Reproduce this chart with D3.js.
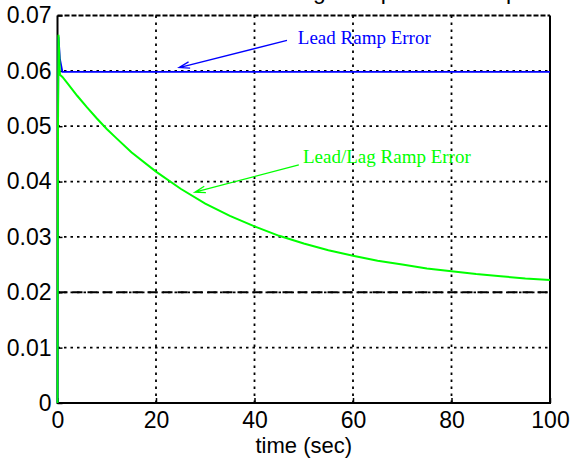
<!DOCTYPE html>
<html>
<head>
<meta charset="utf-8">
<script src="https://cdn.jsdelivr.net/npm/d3@7/dist/d3.min.js"></script>
<style>
body { margin: 0; background: #fff; }
svg { display: block; }
.tick text, .axis-label, .chart-title { font-family: "Liberation Sans", Arial, sans-serif; font-size: 23px; fill: #000; }
.axis-label { font-size: 22px; }
.note { font-family: "Liberation Serif", "Times New Roman", serif; font-size: 19px; }
</style>
</head>
<body>
<svg></svg>
<script>
// values
const time = [0, 0.1, 0.2, 0.5, 1, 2, 4, 6, 8, 10, 12, 15, 20, 25, 30, 35, 40, 45, 50, 55, 60, 65, 70, 75, 80, 85, 90, 95, 100];
const leadError = [0, 0.05, 0.0662, 0.0621, 0.0598, 0.0598, 0.0598, 0.0598, 0.0598, 0.0598, 0.0598, 0.0598, 0.0598, 0.0598, 0.0598, 0.0598, 0.0598, 0.0598, 0.0598, 0.0598, 0.0598, 0.0598, 0.0598, 0.0598, 0.0598, 0.0598, 0.0598, 0.0598, 0.0598];
const leadLagError = [0, 0.05, 0.0665, 0.0593, 0.0589, 0.0578, 0.0555, 0.0534, 0.0514, 0.0495, 0.0478, 0.0453, 0.0418, 0.0387, 0.0360, 0.0338, 0.0319, 0.0302, 0.0288, 0.0276, 0.0266, 0.0257, 0.0250, 0.0243, 0.0238, 0.0233, 0.0229, 0.0225, 0.0222];
const steadyError = [0.02, 0.02];
const steadyTime = [0, 100];
const xTicks = [0, 20, 40, 60, 80, 100];
const yTicks = [0, 0.01, 0.02, 0.03, 0.04, 0.05, 0.06, 0.07];
const seriesNames = ["Lead Ramp Error", "Lead/Lag Ramp Error"];
const titleText = "Lead and Lead/Lag Ramp Error Comparison";
const xLabel = "time (sec)";

const margin = {top: 15.5, right: 22, bottom: 55, left: 57.5},
    width = 572 - margin.left - margin.right,
    height = 458 - margin.top - margin.bottom;

const svg = d3.select("svg")
    .attr("width", width + margin.left + margin.right)
    .attr("height", height + margin.top + margin.bottom)
  .append("g")
    .attr("transform", "translate(" + margin.left + "," + margin.top + ")");

const x = d3.scaleLinear().domain([0, 100]).range([0, width]);
const y = d3.scaleLinear().domain([0, 0.07]).range([height, 0]);

// dotted grid
svg.selectAll(".vgrid")
    .data(xTicks.slice(1, -1))
  .enter().append("line")
    .attr("x1", d => x(d)).attr("x2", d => x(d))
    .attr("y1", 0).attr("y2", height)
    .attr("stroke", "#000").attr("stroke-width", 1.8)
    .attr("stroke-dasharray", "2.5,4.5");
svg.selectAll(".hgrid")
    .data(yTicks.slice(1, -1))
  .enter().append("line")
    .attr("x1", 0).attr("x2", width)
    .attr("y1", d => y(d)).attr("y2", d => y(d))
    .attr("stroke", "#000").attr("stroke-width", 1.8)
    .attr("stroke-dasharray", "2.5,4");

// axes
const xAxis = svg.append("g")
    .attr("transform", "translate(0," + height + ")")
    .call(d3.axisBottom(x).tickValues(xTicks).tickSize(-5).tickPadding(9).tickFormat(d3.format("d")));
const yAxis = svg.append("g")
    .call(d3.axisLeft(y).tickValues(yTicks).tickSize(-5).tickPadding(6)
      .tickFormat(d => d === 0 ? "0" : d3.format(".2f")(d)));
[xAxis, yAxis].forEach(a => {
  a.select(".domain").remove();
  a.selectAll(".tick line").attr("stroke", "#000").attr("stroke-width", 1.5);
});

// box
svg.append("path")
    .attr("d", "M0,0V" + height + "H" + width + "V0")
    .attr("fill", "none").attr("stroke", "#000").attr("stroke-width", 2);
svg.append("line")
    .attr("x1", 0).attr("x2", width).attr("y1", 0).attr("y2", 0)
    .attr("stroke", "#000").attr("stroke-width", 2)
    .attr("stroke-dasharray", "5,2");

// steady-state reference
const line = d3.line().x(d => x(d[0])).y(d => y(d[1]));
svg.append("path")
    .datum(d3.zip(steadyTime, steadyError))
    .attr("d", line)
    .attr("fill", "none").attr("stroke", "#000").attr("stroke-width", 2)
    .attr("stroke-dasharray", "10,5");

svg.append("path")
    .datum(d3.zip(time, leadError))
    .attr("d", line)
    .attr("fill", "none").attr("stroke", "#0000ff").attr("stroke-width", 1.8);
svg.append("path")
    .datum(d3.zip(time, leadLagError))
    .attr("d", line)
    .attr("fill", "none").attr("stroke", "#00ff00").attr("stroke-width", 2);

// annotations
function arrow(x0, y0, x1, y1, color) {
  const ang = Math.atan2(y0 - y1, x0 - x1), len = 11, spread = 0.3;
  svg.append("path")
    .attr("d", "M" + x0 + "," + y0 + "L" + x1 + "," + y1 +
      "M" + (x1 + len * Math.cos(ang - spread)) + "," + (y1 + len * Math.sin(ang - spread)) +
      "L" + x1 + "," + y1 +
      "L" + (x1 + len * Math.cos(ang + spread)) + "," + (y1 + len * Math.sin(ang + spread)))
    .attr("fill", "none").attr("stroke", color).attr("stroke-width", 1.3);
}
svg.append("text").attr("class", "note")
    .attr("x", x(48.8)).attr("y", y(0.0649))
    .attr("fill", "#0000ff").text(seriesNames[0]);
arrow(x(46.6), y(0.0655), x(24.7), y(0.0606), "#0000ff");
svg.append("text").attr("class", "note")
    .attr("x", x(49.85)).attr("y", y(0.0434))
    .attr("fill", "#00ff00").text(seriesNames[1]);
arrow(x(49.0), y(0.0430), x(27.9), y(0.0381), "#00ff00");

// labels
svg.append("text")
    .attr("class", "axis-label")
    .attr("x", width / 2).attr("y", height + 50)
    .attr("text-anchor", "middle")
    .text(xLabel);
svg.append("text")
    .attr("class", "chart-title")
    .attr("x", 70).attr("y", -16.5)
    .text(titleText);
</script>
</body>
</html>
